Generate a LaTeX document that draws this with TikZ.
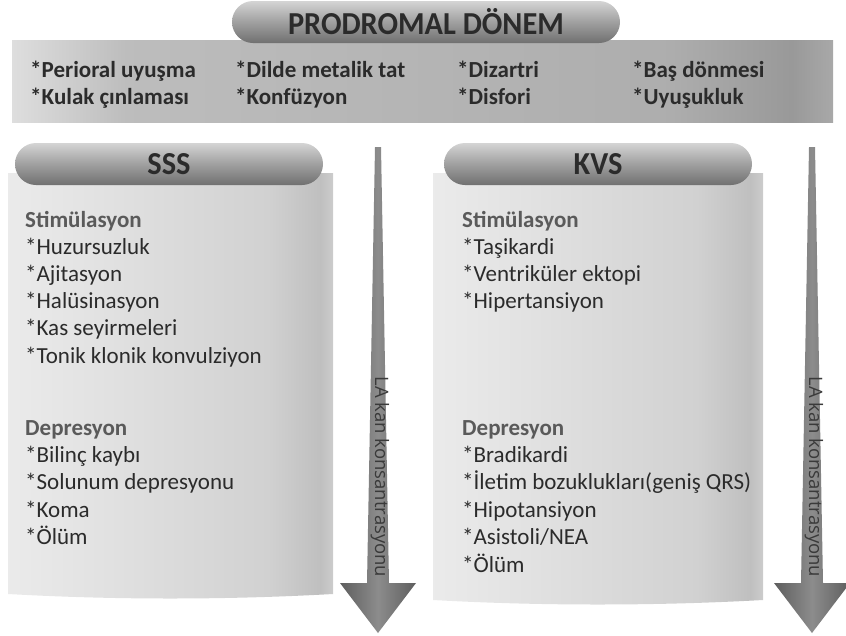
\documentclass[tikz,border=0pt]{standalone}
\usepackage{fontspec}
\setmainfont{Carlito}
\newfontfamily\headfont{Carlito}[FakeStretch=0.95]
\newfontfamily\arrowfont{Open Sans}
\usetikzlibrary{shapes.misc}
\definecolor{textgray}{HTML}{2B2B2B}
\definecolor{subgray}{HTML}{5A5A5A}
\definecolor{pilltop}{HTML}{D4D4D4}
\definecolor{pillmid}{HTML}{A0A0A0}
\definecolor{pillbot}{HTML}{707070}
\definecolor{arrowedge}{HTML}{5E5E5E}
\definecolor{arrowmid}{HTML}{8C8C8C}
\definecolor{arrowtext}{HTML}{3A3A3A}
\pgfdeclarehorizontalshading{bandshade}{100bp}{color(0bp)=(black!13); color(25bp)=(black!13); color(32bp)=(black!26); color(65bp)=(black!32); color(72.5bp)=(black!40); color(75bp)=(black!34); color(100bp)=(black!34)}
\pgfdeclarehorizontalshading{boxshade}{100bp}{color(0bp)=(black!8); color(25bp)=(black!8); color(37.5bp)=(black!11); color(65bp)=(black!18); color(73bp)=(black!25); color(75bp)=(black!20); color(100bp)=(black!20)}
\tikzset{
  pill/.style={rounded rectangle, minimum height=42pt, inner sep=0pt, top color=pilltop, bottom color=pillbot, middle color=pillmid, text=textgray, font=\headfont\bfseries\fontsize{32}{32}\selectfont},
  item/.style={anchor=base west, inner sep=0pt, text=textgray, font=\fontsize{23}{27}\selectfont},
  subhead/.style={item, text=subgray, font=\bfseries\fontsize{23}{27}\selectfont},
  prodrom/.style={item, font=\bfseries\fontsize{23}{27}\selectfont},
  colbox/.style={shading=boxshade},
  concarrow/.style={left color=arrowedge, right color=arrowedge, middle color=arrowmid},
  conclabel/.style={rotate=-90, inner sep=0pt, text=arrowtext, font=\arrowfont\fontsize{18.5}{18.5}\selectfont}
}
\begin{document}
\begin{tikzpicture}[x=1pt,y=-1pt]
                \useasboundingbox (0,0) rectangle (846,635);
                \shade[shading=bandshade] (12,40) rectangle (833,122);
                \node[pill, minimum width=388pt] (prodromal) at (426,22) {PRODROMAL DÖNEM};
                \node[prodrom] (p11) at (30,77) {*Perioral uyuşma};
                \node[prodrom] (p12) at (30,104) {*Kulak çınlaması};
                \node[prodrom] (p21) at (235,77) {*Dilde metalik tat};
                \node[prodrom] (p22) at (235,104) {*Konfüzyon};
                \node[prodrom] (p31) at (457,77) {*Dizartri};
                \node[prodrom] (p32) at (457,104) {*Disfori};
                \node[prodrom] (p41) at (632,77) {*Baş dönmesi};
                \node[prodrom] (p42) at (632,104) {*Uyuşukluk};

                \shade[colbox] (8,173) -- (333,173) -- (333,594) .. controls (225,600) and (115,600) .. (8,594) -- cycle;
                \shade[colbox] (433,173) -- (763,173) -- (763,600) .. controls (655,606) and (540,606) .. (433,600) -- cycle;
                \node[pill, minimum width=308pt] (sss) at (169,164) {SSS};
                \node[pill, minimum width=308pt] (kvs) at (598,164) {KVS};

                \node[subhead] (sssstim) at (25,227) {Stimülasyon};
                \foreach \txt [count=\i] in {*Huzursuzluk, *Ajitasyon, *Halüsinasyon, *Kas seyirmeleri, *Tonik klonik konvulziyon}
                    \node[item] (sssstim\i) at (25,227+27.2*\i) {\txt};
                \node[subhead] (sssdep) at (25,435) {Depresyon};
                \foreach \txt [count=\i] in {*Bilinç kaybı, *Solunum depresyonu, *Koma, *Ölüm}
                    \node[item] (sssdep\i) at (25,435+27.4*\i) {\txt};

                \node[subhead] (kvsstim) at (462,227) {Stimülasyon};
                \foreach \txt [count=\i] in {*Taşikardi, *Ventriküler ektopi, *Hipertansiyon}
                    \node[item] (kvsstim\i) at (462,227+27.2*\i) {\txt};
                \node[subhead] (kvsdep) at (462,435) {Depresyon};
                \foreach \txt [count=\i] in {*Bradikardi, {*İletim bozuklukları(geniş QRS)}, *Hipotansiyon, *Asistoli/NEA, *Ölüm}
                    \node[item] (kvsdep\i) at (462,435+27.4*\i) {\txt};

                \coordinate (ssstop) at (378,147);
                \coordinate (ssstip) at (378,633);
                \shade[concarrow] ([xshift=-3pt]ssstop) -- ([xshift=3pt]ssstop) -- ([xshift=11pt,yshift=50pt]ssstip) -- ([xshift=38pt,yshift=50pt]ssstip) -- (ssstip) -- ([xshift=-38pt,yshift=50pt]ssstip) -- ([xshift=-11pt,yshift=50pt]ssstip) -- cycle;
                \node[conclabel] (sssconc) at (380,477) {LA kan konsantrasyonu};

                \coordinate (kvstop) at (812,147);
                \coordinate (kvstip) at (812,633);
                \shade[concarrow] ([xshift=-3pt]kvstop) -- ([xshift=3pt]kvstop) -- ([xshift=11pt,yshift=50pt]kvstip) -- ([xshift=38pt,yshift=50pt]kvstip) -- (kvstip) -- ([xshift=-38pt,yshift=50pt]kvstip) -- ([xshift=-11pt,yshift=50pt]kvstip) -- cycle;
                \node[conclabel] (kvsconc) at (814,477) {LA kan konsantrasyonu};
\end{tikzpicture}
\end{document}
